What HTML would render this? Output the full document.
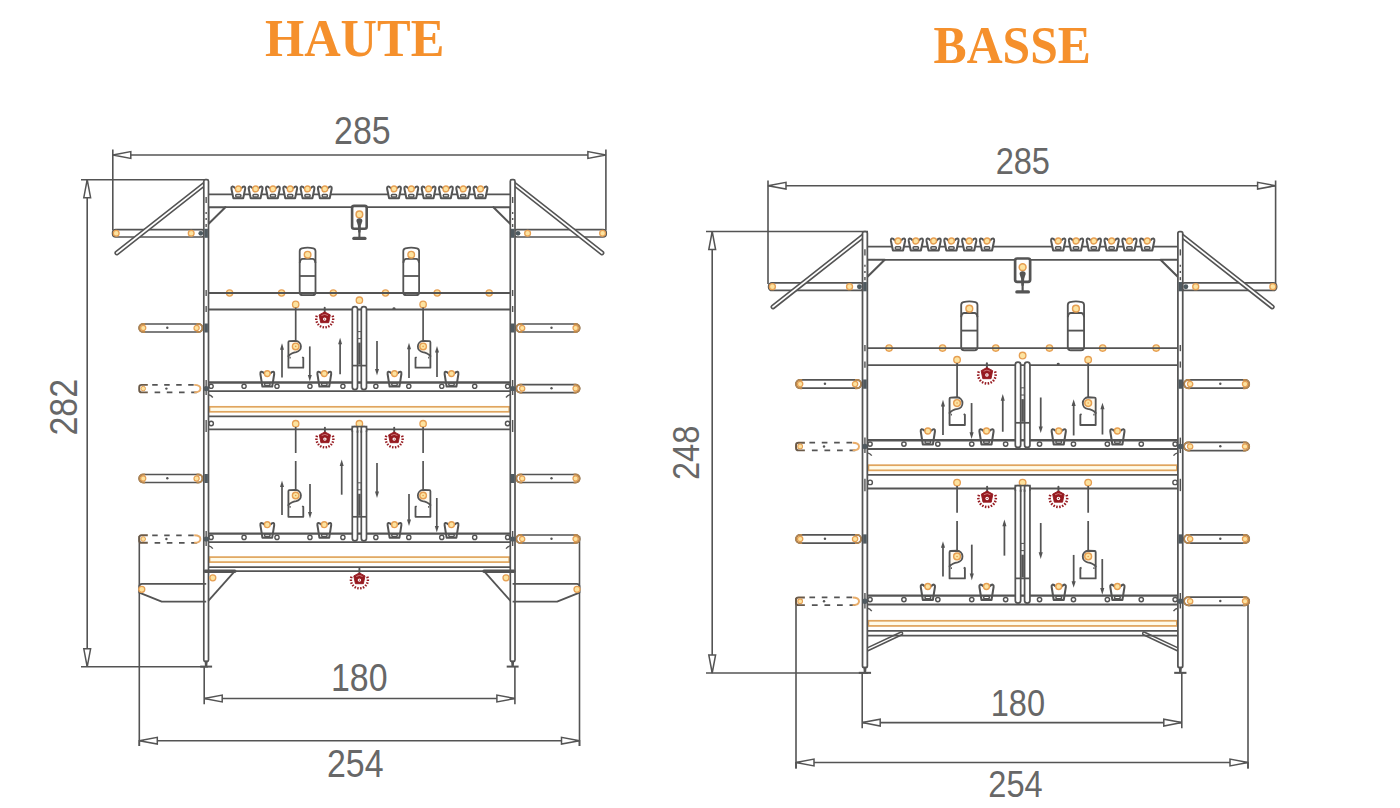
<!DOCTYPE html>
<html><head><meta charset="utf-8"><style>
html,body{margin:0;padding:0;background:#fff;width:1400px;height:808px;overflow:hidden}
svg{display:block}
text{font-family:"Liberation Sans",sans-serif}
.ttl{font-family:"Liberation Serif",serif;font-weight:bold;fill:#f5902c}
</style></head><body>
<svg width="1400" height="808" viewBox="0 0 1400 808">
<defs><g id="cupT" fill="none" stroke="#545454" stroke-width="2" stroke-linejoin="round" stroke-linecap="round">
<path d="M-3.4,1.6 Q-4.6,0 -6.1,0.2 Q-7.2,0.5 -6.9,2.4 L-4.9,11.8 L4.9,11.8 L6.9,2.4 Q7.2,0.5 6.1,0.2 Q4.6,0 3.4,1.6" fill="#fff"/>
<rect x="-2.6" y="8.2" width="5.2" height="2.3" rx="1" stroke-width="1.5"/>
<circle cx="0" cy="2.5" r="2.9" fill="#fde3a0" stroke="#e69f52" stroke-width="1.4"/>
</g><g id="cupF" fill="none" stroke="#545454" stroke-width="2" stroke-linejoin="round" stroke-linecap="round">
<path d="M-3.4,1.6 Q-4.6,0 -6.1,0.2 Q-7.2,0.5 -6.9,2.4 L-4.9,15 L4.9,15 L6.9,2.4 Q7.2,0.5 6.1,0.2 Q4.6,0 3.4,1.6" fill="#fff"/>
<rect x="-2.7" y="11.4" width="5.4" height="2.4" rx="1" stroke-width="1.5"/>
<circle cx="0" cy="2" r="2.9" fill="#fde3a0" stroke="#e69f52" stroke-width="1.4"/>
</g><g id="feeder" fill="none" stroke="#545454" stroke-width="1.8">
<path d="M-7.9,44.4 L-7.9,3.4 Q-7.9,1 -5.8,0.5 Q0,-0.8 5.8,0.5 Q7.9,1 7.9,3.4 L7.9,44.4 Q7.9,47.4 4.9,47.4 L-4.9,47.4 Q-7.9,47.4 -7.9,44.4 Z" fill="#fff"/>
<path d="M-7.9,15 Q-7.3,11.1 -5,11.1 L5,11.1 Q7.3,11.1 7.9,15"/>
<line x1="-7.9" y1="28.2" x2="7.9" y2="28.2"/>
<line x1="-5" y1="45.9" x2="5" y2="45.9" stroke-width="1.2"/>
<circle cx="0" cy="6.9" r="3.3" fill="#fde3a0" stroke="#e69f52" stroke-width="1.4"/>
</g><g id="fbox">
<rect x="-7.3" y="0.4" width="14.6" height="22.8" rx="2" fill="#fff" stroke="#545454" stroke-width="2.6"/>
<circle cx="0" cy="8.9" r="3.3" fill="#fde3a0" stroke="#e69f52" stroke-width="1.5"/>
<path d="M-3,15.6 Q-3,12.8 0,12.8 Q3,12.8 3,15.6 L1.6,19.5 L-1.6,19.5 Z" fill="#545454"/>
<path d="M-1.6,19 L-1.1,27 L1.1,27 L1.6,19 Z" fill="#545454"/>
<line x1="0" y1="22" x2="0" y2="32" stroke="#545454" stroke-width="2.1"/>
<line x1="-5.6" y1="32.9" x2="5.6" y2="32.9" stroke="#545454" stroke-width="3.2" stroke-linecap="round"/>
</g><g id="drk" fill="none" stroke="#545454" stroke-width="1.8" stroke-linejoin="round">
<path d="M0,-5.6 A5.7,5.7 0 0 1 0.5,5.7 Q-4.5,6.2 -7.3,9.8 L-7.3,-4.2 Q-7.3,-5.2 -6.3,-5.3 Z" fill="#fffaf0"/>
<path d="M-7.3,9 L-7.3,21.3 L7.6,21.3 L7.6,11.4 L6.4,10.8"/>
<path d="M-5.6,10.4 L-5.6,12.2" stroke-width="1.2"/>
<circle cx="0" cy="0" r="3.3" fill="#fde3a0" stroke="#e69f52" stroke-width="1.4"/>
<circle cx="0" cy="0" r="0.8" fill="#e69f52" stroke="none"/>
</g><g id="heat">
<line x1="0" y1="-11.2" x2="0" y2="-6.5" stroke="#545454" stroke-width="1.9" stroke-linecap="round"/>
<path d="M0,-7 L5.6,-4 L4,3.8 L-4,3.8 L-5.6,-4 Z" fill="#961a20" stroke="#961a20" stroke-width="0.9" stroke-linejoin="round"/>
<path d="M-3.2,-3.4 Q0,-5.6 3.2,-3.4" fill="none" stroke="#d98b8b" stroke-width="0.8"/>
<circle cx="0" cy="0.2" r="1.7" fill="#fff"/>
<circle cx="0" cy="0.2" r="0.6" fill="#961a20"/>
<g stroke="#961a20" stroke-width="1.5"><line x1="-6.98" y1="-2.13" x2="-9.28" y2="-2.84"/><line x1="-7.29" y1="0.31" x2="-9.69" y2="0.42"/><line x1="-6.77" y1="2.72" x2="-9" y2="3.62"/><line x1="-5.48" y1="4.82" x2="-7.28" y2="6.41"/><line x1="-3.56" y1="6.37" x2="-4.73" y2="8.47"/><line x1="-1.23" y1="7.2" x2="-1.64" y2="9.56"/><line x1="1.23" y1="7.2" x2="1.64" y2="9.56"/><line x1="3.56" y1="6.37" x2="4.73" y2="8.47"/><line x1="5.48" y1="4.82" x2="7.28" y2="6.41"/><line x1="6.77" y1="2.72" x2="9" y2="3.62"/><line x1="7.29" y1="0.31" x2="9.69" y2="0.42"/><line x1="6.98" y1="-2.13" x2="9.28" y2="-2.84"/></g>
</g><g id="perch">
<rect x="0" y="-4" width="63.3" height="8" rx="4" fill="#fff" stroke="#545454" stroke-width="1.7"/>
<path d="M6,-4 L4,-4 A4,4 0 0 0 4,4 L6,4" fill="none" stroke="#b7874f" stroke-width="1.8"/>
<path d="M57.3,-4 L59.3,-4 A4,4 0 0 1 59.3,4 L57.3,4" fill="none" stroke="#b7874f" stroke-width="1.8"/>
<circle cx="4" cy="0" r="2.6" fill="#fde3a0" stroke="#e69f52" stroke-width="1.2"/>
<circle cx="57.4" cy="0" r="2.6" fill="#fde3a0" stroke="#e69f52" stroke-width="1.2"/>
<circle cx="28.1" cy="-0.3" r="1.2" fill="#545454"/>
</g><g id="dperch">
<path d="M13,-3.7 L58,-3.7" stroke="#545454" stroke-width="1.7" stroke-dasharray="5.5,6.5"/>
<path d="M15.4,3.8 L58,3.8" stroke="#545454" stroke-width="1.7" stroke-dasharray="5.6,6.6"/>
<path d="M8.6,-3.7 L2.4,-3.7 Q0,-3.7 0,-1.3 L0,1.4 Q0,3.8 2.4,3.8 L8.6,3.8" fill="none" stroke="#6b5a48" stroke-width="1.9"/>
<circle cx="4" cy="0" r="2.3" fill="#fde3a0" stroke="#e69f52" stroke-width="1"/>
<path d="M55,-3.7 Q61.2,-3.7 61.2,0 Q61.2,3.8 55,3.8" fill="none" stroke="#e9ad6a" stroke-width="1.9"/>
<circle cx="27.2" cy="0" r="1.2" fill="#545454"/>
</g></defs>
<text class="ttl" transform="translate(354.6,55.6) scale(0.97,1)" font-size="52" text-anchor="middle">HAUTE</text>
<text class="ttl" transform="translate(1012.2,63.2) scale(0.955,1)" font-size="52" text-anchor="middle">BASSE</text>
<line x1="112.8" y1="155" x2="605.9" y2="155" stroke="#545454" stroke-width="1.6"/><line x1="112.8" y1="149.5" x2="112.8" y2="230" stroke="#545454" stroke-width="1.6"/><line x1="605.9" y1="149.5" x2="605.9" y2="230" stroke="#545454" stroke-width="1.6"/><path d="M112.8,155 L130.8,151.6 L130.8,158.4 Z" fill="#fff" stroke="#545454" stroke-width="1.5"/><path d="M605.9,155 L587.9,151.6 L587.9,158.4 Z" fill="#fff" stroke="#545454" stroke-width="1.5"/><line x1="87.2" y1="179.7" x2="87.2" y2="666.8" stroke="#545454" stroke-width="1.6"/><line x1="81" y1="179.7" x2="208" y2="179.7" stroke="#545454" stroke-width="1.6"/><line x1="81" y1="666.8" x2="208" y2="666.8" stroke="#545454" stroke-width="1.6"/><path d="M87.2,179.7 L83.8,197.7 L90.6,197.7 Z" fill="#fff" stroke="#545454" stroke-width="1.5"/><path d="M87.2,666.8 L83.8,648.8 L90.6,648.8 Z" fill="#fff" stroke="#545454" stroke-width="1.5"/><line x1="139.3" y1="536" x2="139.3" y2="746" stroke="#545454" stroke-width="1.6"/><line x1="579.5" y1="536" x2="579.5" y2="746" stroke="#545454" stroke-width="1.6"/><line x1="139.3" y1="740.7" x2="579.5" y2="740.7" stroke="#545454" stroke-width="1.6"/><line x1="139.3" y1="740" x2="139.3" y2="746" stroke="#545454" stroke-width="1.6"/><line x1="579.5" y1="740" x2="579.5" y2="746" stroke="#545454" stroke-width="1.6"/><path d="M139.3,740.7 L157.3,737.3 L157.3,744.1 Z" fill="#fff" stroke="#545454" stroke-width="1.5"/><path d="M579.5,740.7 L561.5,737.3 L561.5,744.1 Z" fill="#fff" stroke="#545454" stroke-width="1.5"/><line x1="204.2" y1="698.5" x2="514.9" y2="698.5" stroke="#545454" stroke-width="1.6"/><line x1="204.2" y1="667" x2="204.2" y2="704.3" stroke="#545454" stroke-width="1.6"/><line x1="514.9" y1="667" x2="514.9" y2="704.3" stroke="#545454" stroke-width="1.6"/><path d="M204.2,698.5 L222.2,695.1 L222.2,701.9 Z" fill="#fff" stroke="#545454" stroke-width="1.5"/><path d="M514.9,698.5 L496.9,695.1 L496.9,701.9 Z" fill="#fff" stroke="#545454" stroke-width="1.5"/><line x1="768" y1="185.7" x2="1275.6" y2="185.7" stroke="#545454" stroke-width="1.6"/><line x1="768" y1="180.5" x2="768" y2="284" stroke="#545454" stroke-width="1.6"/><line x1="1275.6" y1="180.5" x2="1275.6" y2="284" stroke="#545454" stroke-width="1.6"/><path d="M768,185.7 L786,182.3 L786,189.1 Z" fill="#fff" stroke="#545454" stroke-width="1.5"/><path d="M1275.6,185.7 L1257.6,182.3 L1257.6,189.1 Z" fill="#fff" stroke="#545454" stroke-width="1.5"/><line x1="712.2" y1="231.5" x2="712.2" y2="673" stroke="#545454" stroke-width="1.6"/><line x1="706" y1="231.5" x2="868" y2="231.5" stroke="#545454" stroke-width="1.6"/><line x1="706" y1="673" x2="868" y2="673" stroke="#545454" stroke-width="1.6"/><path d="M712.2,231.5 L708.8,249.5 L715.6,249.5 Z" fill="#fff" stroke="#545454" stroke-width="1.5"/><path d="M712.2,673 L708.8,655 L715.6,655 Z" fill="#fff" stroke="#545454" stroke-width="1.5"/><line x1="796" y1="598" x2="796" y2="768.5" stroke="#545454" stroke-width="1.6"/><line x1="1248" y1="598" x2="1248" y2="768.5" stroke="#545454" stroke-width="1.6"/><line x1="796" y1="762.5" x2="1248" y2="762.5" stroke="#545454" stroke-width="1.6"/><line x1="796" y1="762" x2="796" y2="768.5" stroke="#545454" stroke-width="1.6"/><line x1="1248" y1="762" x2="1248" y2="768.5" stroke="#545454" stroke-width="1.6"/><path d="M796,762.5 L814,759.1 L814,765.9 Z" fill="#fff" stroke="#545454" stroke-width="1.5"/><path d="M1248,762.5 L1230,759.1 L1230,765.9 Z" fill="#fff" stroke="#545454" stroke-width="1.5"/><line x1="862.2" y1="722.6" x2="1181.8" y2="722.6" stroke="#545454" stroke-width="1.6"/><line x1="862.2" y1="673" x2="862.2" y2="728.2" stroke="#545454" stroke-width="1.6"/><line x1="1181.8" y1="673" x2="1181.8" y2="728.2" stroke="#545454" stroke-width="1.6"/><path d="M862.2,722.6 L880.2,719.2 L880.2,726 Z" fill="#fff" stroke="#545454" stroke-width="1.5"/><path d="M1181.8,722.6 L1163.8,719.2 L1163.8,726 Z" fill="#fff" stroke="#545454" stroke-width="1.5"/>
<g><rect x="112.6" y="229.6" width="92.4" height="7.4" rx="3.2" fill="#fff" stroke="#545454" stroke-width="1.7"/><circle cx="116.2" cy="233.3" r="2.9" fill="#fde3a0" stroke="#e69f52" stroke-width="1.3"/><circle cx="191.2" cy="233.3" r="2.9" fill="#fde3a0" stroke="#e69f52" stroke-width="1.3"/><circle cx="200.8" cy="233.3" r="2.4" fill="#4d5a60"/><line x1="116.8" y1="253" x2="205" y2="183.6" stroke="#545454" stroke-width="4.8" stroke-linecap="round"/><line x1="116.8" y1="253" x2="205" y2="183.6" stroke="#fff" stroke-width="1.7" stroke-linecap="round"/><rect x="513.8" y="229.6" width="92.4" height="7.4" rx="3.2" fill="#fff" stroke="#545454" stroke-width="1.7"/><circle cx="602.6" cy="233.3" r="2.9" fill="#fde3a0" stroke="#e69f52" stroke-width="1.3"/><circle cx="527.6" cy="233.3" r="2.9" fill="#fde3a0" stroke="#e69f52" stroke-width="1.3"/><circle cx="518" cy="233.3" r="2.4" fill="#4d5a60"/><line x1="602" y1="253" x2="513.8" y2="183.6" stroke="#545454" stroke-width="4.8" stroke-linecap="round"/><line x1="602" y1="253" x2="513.8" y2="183.6" stroke="#fff" stroke-width="1.7" stroke-linecap="round"/><use href="#perch" x="139.2" y="328"/><use href="#perch" transform="translate(579.6,328) scale(-1,1)"/><use href="#perch" x="139.2" y="478.5"/><use href="#perch" transform="translate(579.6,478.5) scale(-1,1)"/><use href="#dperch" x="139.2" y="388.6"/><use href="#perch" transform="translate(579.6,388.6) scale(-1,1)"/><use href="#dperch" x="139.2" y="539"/><use href="#perch" transform="translate(579.6,539) scale(-1,1)"/><circle cx="229.6" cy="293" r="3.1" fill="#fde3a0" stroke="#e69f52" stroke-width="1.3"/><circle cx="489.2" cy="293" r="3.1" fill="#fde3a0" stroke="#e69f52" stroke-width="1.3"/><circle cx="281.6" cy="293" r="3.1" fill="#fde3a0" stroke="#e69f52" stroke-width="1.3"/><circle cx="437.2" cy="293" r="3.1" fill="#fde3a0" stroke="#e69f52" stroke-width="1.3"/><circle cx="333.3" cy="293" r="3.1" fill="#fde3a0" stroke="#e69f52" stroke-width="1.3"/><circle cx="385.5" cy="293" r="3.1" fill="#fde3a0" stroke="#e69f52" stroke-width="1.3"/><use href="#feeder" x="307.6" y="247.8"/><use href="#feeder" x="411.2" y="247.8"/><line x1="208.4" y1="194.4" x2="510.4" y2="194.4" stroke="#545454" stroke-width="1.8" /><line x1="224.5" y1="207.2" x2="494.3" y2="207.2" stroke="#545454" stroke-width="1.8" /><line x1="208.4" y1="293" x2="510.4" y2="293" stroke="#545454" stroke-width="1.8" /><line x1="208.4" y1="309.5" x2="510.4" y2="309.5" stroke="#545454" stroke-width="1.8" /><line x1="208.4" y1="429.4" x2="510.4" y2="429.4" stroke="#545454" stroke-width="1.8" /><path d="M208.4,207.2 L225.4,207.2 L208.4,224 Z" fill="#fff" stroke="#545454" stroke-width="2" stroke-linejoin="round"/><path d="M510.4,207.2 L493.4,207.2 L510.4,224 Z" fill="#fff" stroke="#545454" stroke-width="2" stroke-linejoin="round"/><use href="#cupT" x="238.3" y="186.4"/><use href="#cupT" x="480.5" y="186.4"/><use href="#cupT" x="255.6" y="186.4"/><use href="#cupT" x="463.2" y="186.4"/><use href="#cupT" x="272.9" y="186.4"/><use href="#cupT" x="445.9" y="186.4"/><use href="#cupT" x="290.2" y="186.4"/><use href="#cupT" x="428.6" y="186.4"/><use href="#cupT" x="307.5" y="186.4"/><use href="#cupT" x="411.3" y="186.4"/><use href="#cupT" x="324.8" y="186.4"/><use href="#cupT" x="394" y="186.4"/><use href="#fbox" x="359.4" y="205.5"/><circle cx="295.7" cy="304.4" r="3.2" fill="#fde3a0" stroke="#e69f52" stroke-width="1.3"/><circle cx="359.4" cy="300.2" r="3.2" fill="#fde3a0" stroke="#e69f52" stroke-width="1.3"/><circle cx="423.1" cy="304.4" r="3.2" fill="#fde3a0" stroke="#e69f52" stroke-width="1.3"/><use href="#heat" x="324.7" y="318.9"/><ellipse cx="394" cy="308.4" rx="1.5" ry="1.2" fill="#545454"/><line x1="295.7" y1="307.6" x2="295.7" y2="341" stroke="#545454" stroke-width="1.7" /><line x1="423.1" y1="307.6" x2="423.1" y2="341" stroke="#545454" stroke-width="1.7" /><use href="#drk" x="295.7" y="346.4"/><use href="#drk" transform="translate(423.1,346.4) scale(-1,1)"/><line x1="282" y1="377.4" x2="282" y2="347.2" stroke="#545454" stroke-width="1.7"/><path d="M282,343.3 L280,349.8 L284,349.8 Z" fill="#545454"/><line x1="309.8" y1="346.4" x2="309.8" y2="377.5" stroke="#545454" stroke-width="1.7"/><path d="M309.8,381.4 L307.8,374.9 L311.8,374.9 Z" fill="#545454"/><line x1="340.1" y1="374.3" x2="340.1" y2="341.6" stroke="#545454" stroke-width="1.7"/><path d="M340.1,337.7 L338.1,344.2 L342.1,344.2 Z" fill="#545454"/><line x1="377" y1="341" x2="377" y2="371.7" stroke="#545454" stroke-width="1.7"/><path d="M377,375.6 L375,369.1 L379,369.1 Z" fill="#545454"/><line x1="409" y1="377.9" x2="409" y2="346.6" stroke="#545454" stroke-width="1.7"/><path d="M409,342.7 L407,349.2 L411,349.2 Z" fill="#545454"/><line x1="437" y1="377" x2="437" y2="349.9" stroke="#545454" stroke-width="1.7"/><path d="M437,346 L435,352.5 L439,352.5 Z" fill="#545454"/><circle cx="295.7" cy="423.7" r="3.2" fill="#fde3a0" stroke="#e69f52" stroke-width="1.3"/><circle cx="359.4" cy="423.7" r="3.2" fill="#fde3a0" stroke="#e69f52" stroke-width="1.3"/><circle cx="423.1" cy="423.7" r="3.2" fill="#fde3a0" stroke="#e69f52" stroke-width="1.3"/><use href="#heat" x="324.9" y="438.9"/><use href="#heat" x="394.2" y="438.9"/><line x1="295.7" y1="427" x2="295.7" y2="453" stroke="#545454" stroke-width="1.7" /><line x1="295.7" y1="461" x2="295.7" y2="490" stroke="#545454" stroke-width="1.7" /><line x1="423.1" y1="427" x2="423.1" y2="453" stroke="#545454" stroke-width="1.7" /><line x1="423.1" y1="461" x2="423.1" y2="490" stroke="#545454" stroke-width="1.7" /><use href="#drk" x="295.7" y="495.5"/><use href="#drk" transform="translate(423.1,495.5) scale(-1,1)"/><line x1="282" y1="515" x2="282" y2="484.5" stroke="#545454" stroke-width="1.7"/><path d="M282,480.6 L280,487.1 L284,487.1 Z" fill="#545454"/><line x1="310" y1="484" x2="310" y2="514.6" stroke="#545454" stroke-width="1.7"/><path d="M310,518.5 L308,512 L312,512 Z" fill="#545454"/><line x1="341.7" y1="494.7" x2="341.7" y2="463.5" stroke="#545454" stroke-width="1.7"/><path d="M341.7,459.6 L339.7,466.1 L343.7,466.1 Z" fill="#545454"/><line x1="377" y1="463" x2="377" y2="494.1" stroke="#545454" stroke-width="1.7"/><path d="M377,498 L375,491.5 L379,491.5 Z" fill="#545454"/><line x1="409" y1="494" x2="409" y2="522.1" stroke="#545454" stroke-width="1.7"/><path d="M409,526 L407,519.5 L411,519.5 Z" fill="#545454"/><line x1="436.8" y1="498" x2="436.8" y2="528.7" stroke="#545454" stroke-width="1.7"/><path d="M436.8,532.6 L434.8,526.1 L438.8,526.1 Z" fill="#545454"/><rect x="209.5" y="406.8" width="299.8" height="5" fill="#fffbea" stroke="#e0a55e" stroke-width="1.7"/><rect x="209.5" y="557.1" width="299.8" height="5" fill="#fffbea" stroke="#e0a55e" stroke-width="1.7"/><line x1="208.4" y1="416.3" x2="510.4" y2="416.3" stroke="#545454" stroke-width="1.7" /><line x1="208.4" y1="567.1" x2="510.4" y2="567.1" stroke="#545454" stroke-width="1.7" /><line x1="208.4" y1="571.1" x2="510.4" y2="571.1" stroke="#545454" stroke-width="1.6" /><circle cx="211.2" cy="423.5" r="2.2" fill="#fff" stroke="#545454" stroke-width="1.4"/><circle cx="507.6" cy="423.5" r="2.2" fill="#fff" stroke="#545454" stroke-width="1.4"/><use href="#cupF" x="267.3" y="371.6"/><use href="#cupF" x="451.5" y="371.6"/><use href="#cupF" x="324.3" y="371.6"/><use href="#cupF" x="394.5" y="371.6"/><line x1="208.4" y1="382.5" x2="510.4" y2="382.5" stroke="#545454" stroke-width="2.3" /><line x1="208.4" y1="391.1" x2="510.4" y2="391.1" stroke="#545454" stroke-width="1.8" /><circle cx="211.1" cy="386.3" r="2.1" fill="#fff" stroke="#545454" stroke-width="1.4"/><circle cx="244.05" cy="386.3" r="2.1" fill="#fff" stroke="#545454" stroke-width="1.4"/><circle cx="277" cy="386.3" r="2.1" fill="#fff" stroke="#545454" stroke-width="1.4"/><circle cx="309.95" cy="386.3" r="2.1" fill="#fff" stroke="#545454" stroke-width="1.4"/><circle cx="342.9" cy="386.3" r="2.1" fill="#fff" stroke="#545454" stroke-width="1.4"/><circle cx="375.85" cy="386.3" r="2.1" fill="#fff" stroke="#545454" stroke-width="1.4"/><circle cx="408.8" cy="386.3" r="2.1" fill="#fff" stroke="#545454" stroke-width="1.4"/><circle cx="441.75" cy="386.3" r="2.1" fill="#fff" stroke="#545454" stroke-width="1.4"/><circle cx="474.7" cy="386.3" r="2.1" fill="#fff" stroke="#545454" stroke-width="1.4"/><circle cx="507.65" cy="386.3" r="2.1" fill="#fff" stroke="#545454" stroke-width="1.4"/><path d="M208.6,394.8 Q211,395.1 212.8,397.5" fill="none" stroke="#545454" stroke-width="1.4"/><path d="M510.2,394.8 Q507.8,395.1 506,397.5" fill="none" stroke="#545454" stroke-width="1.4"/><use href="#cupF" x="267.3" y="522.7"/><use href="#cupF" x="451.5" y="522.7"/><use href="#cupF" x="324.3" y="522.7"/><use href="#cupF" x="394.5" y="522.7"/><line x1="208.4" y1="533.6" x2="510.4" y2="533.6" stroke="#545454" stroke-width="2.3" /><line x1="208.4" y1="542.2" x2="510.4" y2="542.2" stroke="#545454" stroke-width="1.8" /><circle cx="211.1" cy="537.4" r="2.1" fill="#fff" stroke="#545454" stroke-width="1.4"/><circle cx="244.05" cy="537.4" r="2.1" fill="#fff" stroke="#545454" stroke-width="1.4"/><circle cx="277" cy="537.4" r="2.1" fill="#fff" stroke="#545454" stroke-width="1.4"/><circle cx="309.95" cy="537.4" r="2.1" fill="#fff" stroke="#545454" stroke-width="1.4"/><circle cx="342.9" cy="537.4" r="2.1" fill="#fff" stroke="#545454" stroke-width="1.4"/><circle cx="375.85" cy="537.4" r="2.1" fill="#fff" stroke="#545454" stroke-width="1.4"/><circle cx="408.8" cy="537.4" r="2.1" fill="#fff" stroke="#545454" stroke-width="1.4"/><circle cx="441.75" cy="537.4" r="2.1" fill="#fff" stroke="#545454" stroke-width="1.4"/><circle cx="474.7" cy="537.4" r="2.1" fill="#fff" stroke="#545454" stroke-width="1.4"/><circle cx="507.65" cy="537.4" r="2.1" fill="#fff" stroke="#545454" stroke-width="1.4"/><path d="M208.6,545.9 Q211,546.2 212.8,548.6" fill="none" stroke="#545454" stroke-width="1.4"/><path d="M510.2,545.9 Q507.8,546.2 506,548.6" fill="none" stroke="#545454" stroke-width="1.4"/><rect x="352.3" y="306.6" width="5.2" height="83" rx="2.5" fill="#fff" stroke="#545454" stroke-width="1.7"/><rect x="361.3" y="306.6" width="5.2" height="83" rx="2.5" fill="#fff" stroke="#545454" stroke-width="1.7"/><line x1="352.3" y1="365.6" x2="366.5" y2="365.6" stroke="#545454" stroke-width="1.7"/><rect x="358.2" y="342.6" width="2.4" height="22" fill="#545454"/><rect x="357.9" y="331.6" width="3" height="7" fill="#fff" stroke="#545454" stroke-width="1"/><rect x="352.3" y="426.7" width="5.2" height="114.1" rx="2.5" fill="#fff" stroke="#545454" stroke-width="1.7"/><rect x="361.3" y="426.7" width="5.2" height="114.1" rx="2.5" fill="#fff" stroke="#545454" stroke-width="1.7"/><path d="M352.3,431.7 L352.3,426.7 L366.5,426.7 L366.5,431.7" fill="none" stroke="#545454" stroke-width="1.7"/><rect x="353.2" y="427.6" width="12.4" height="3" fill="#fff"/><line x1="357.5" y1="426.7" x2="357.5" y2="432.7" stroke="#545454" stroke-width="1.7"/><line x1="361.3" y1="426.7" x2="361.3" y2="432.7" stroke="#545454" stroke-width="1.7"/><line x1="352.3" y1="516.8" x2="366.5" y2="516.8" stroke="#545454" stroke-width="1.7"/><rect x="358.2" y="493.8" width="2.4" height="22" fill="#545454"/><rect x="357.9" y="482.8" width="3" height="7" fill="#fff" stroke="#545454" stroke-width="1"/><rect x="203.8" y="179.7" width="4.7" height="481.9" rx="1.6" fill="#fff" stroke="#545454" stroke-width="1.7"/><line x1="206.15" y1="197" x2="206.15" y2="203" stroke="#545454" stroke-width="1.4"/><line x1="206.15" y1="212" x2="206.15" y2="214" stroke="#545454" stroke-width="1.4"/><line x1="206.15" y1="218" x2="206.15" y2="220" stroke="#545454" stroke-width="1.4"/><line x1="206.15" y1="224" x2="206.15" y2="227" stroke="#545454" stroke-width="1.4"/><line x1="206.15" y1="290" x2="206.15" y2="296" stroke="#545454" stroke-width="1.4"/><line x1="206.15" y1="306" x2="206.15" y2="312" stroke="#545454" stroke-width="1.4"/><line x1="206.15" y1="380" x2="206.15" y2="395" stroke="#545454" stroke-width="1.4"/><line x1="206.15" y1="420" x2="206.15" y2="432" stroke="#545454" stroke-width="1.4"/><line x1="206.15" y1="531" x2="206.15" y2="546" stroke="#545454" stroke-width="1.4"/><rect x="204.4" y="228.8" width="3.5" height="9" fill="#505a60"/><rect x="204.4" y="323.5" width="3.5" height="9" fill="#505a60"/><rect x="204.4" y="474" width="3.5" height="9" fill="#505a60"/><circle cx="206.15" cy="388.6" r="2.6" fill="#505a60"/><circle cx="206.15" cy="539" r="2.6" fill="#505a60"/><line x1="200.2" y1="666.6" x2="212.1" y2="666.6" stroke="#545454" stroke-width="2"/><path d="M204.6,660.6 L207.7,660.6 L207.3,666.6 L205,666.6 Z" fill="#545454"/><rect x="510.3" y="179.7" width="4.7" height="481.9" rx="1.6" fill="#fff" stroke="#545454" stroke-width="1.7"/><line x1="512.65" y1="197" x2="512.65" y2="203" stroke="#545454" stroke-width="1.4"/><line x1="512.65" y1="212" x2="512.65" y2="214" stroke="#545454" stroke-width="1.4"/><line x1="512.65" y1="218" x2="512.65" y2="220" stroke="#545454" stroke-width="1.4"/><line x1="512.65" y1="224" x2="512.65" y2="227" stroke="#545454" stroke-width="1.4"/><line x1="512.65" y1="290" x2="512.65" y2="296" stroke="#545454" stroke-width="1.4"/><line x1="512.65" y1="306" x2="512.65" y2="312" stroke="#545454" stroke-width="1.4"/><line x1="512.65" y1="380" x2="512.65" y2="395" stroke="#545454" stroke-width="1.4"/><line x1="512.65" y1="420" x2="512.65" y2="432" stroke="#545454" stroke-width="1.4"/><line x1="512.65" y1="531" x2="512.65" y2="546" stroke="#545454" stroke-width="1.4"/><rect x="510.9" y="228.8" width="3.5" height="9" fill="#505a60"/><rect x="510.9" y="323.5" width="3.5" height="9" fill="#505a60"/><rect x="510.9" y="474" width="3.5" height="9" fill="#505a60"/><circle cx="512.65" cy="388.6" r="2.6" fill="#505a60"/><circle cx="512.65" cy="539" r="2.6" fill="#505a60"/><line x1="506.7" y1="666.6" x2="518.6" y2="666.6" stroke="#545454" stroke-width="2"/><path d="M511.1,660.6 L514.2,660.6 L513.8,666.6 L511.5,666.6 Z" fill="#545454"/><path d="M206.2,583.8 L142,583.8 Q139.3,583.8 139.3,586.5 L139.3,592.6 L161.7,601.7 L206.2,601.7" fill="none" stroke="#545454" stroke-width="1.8" stroke-linejoin="round"/><circle cx="141.8" cy="589.3" r="3" fill="#fde3a0" stroke="#e69f52" stroke-width="1.3"/><path d="M234.6,571.4 L208.3,600.8" fill="none" stroke="#545454" stroke-width="1.8"/><line x1="205" y1="571.2" x2="234.8" y2="571.2" stroke="#545454" stroke-width="3.4" stroke-linecap="round"/><circle cx="212.8" cy="577.8" r="3" fill="#fde3a0" stroke="#e69f52" stroke-width="1.3"/><path d="M512.6,583.8 L576.8,583.8 Q579.5,583.8 579.5,586.5 L579.5,592.6 L557.1,601.7 L512.6,601.7" fill="none" stroke="#545454" stroke-width="1.8" stroke-linejoin="round"/><circle cx="577" cy="589.3" r="3" fill="#fde3a0" stroke="#e69f52" stroke-width="1.3"/><path d="M484.2,571.4 L510.5,600.8" fill="none" stroke="#545454" stroke-width="1.8"/><line x1="513.8" y1="571.2" x2="484" y2="571.2" stroke="#545454" stroke-width="3.4" stroke-linecap="round"/><circle cx="506" cy="577.8" r="3" fill="#fde3a0" stroke="#e69f52" stroke-width="1.3"/><use href="#heat" x="359.4" y="579.9"/></g>
<g transform="translate(652.8,46.6) scale(1.029)"><line x1="241.4" y1="570.36" x2="207.97" y2="586.1" stroke="#545454" stroke-width="4.2" stroke-linecap="round"/><line x1="241.4" y1="570.36" x2="207.97" y2="586.1" stroke="#fff" stroke-width="1.3" stroke-linecap="round"/><line x1="477.4" y1="570.36" x2="510.83" y2="586.1" stroke="#545454" stroke-width="4.2" stroke-linecap="round"/><line x1="477.4" y1="570.36" x2="510.83" y2="586.1" stroke="#fff" stroke-width="1.3" stroke-linecap="round"/><rect x="112.6" y="229.6" width="92.4" height="7.4" rx="3.2" fill="#fff" stroke="#545454" stroke-width="1.7"/><circle cx="116.2" cy="233.3" r="2.9" fill="#fde3a0" stroke="#e69f52" stroke-width="1.3"/><circle cx="191.2" cy="233.3" r="2.9" fill="#fde3a0" stroke="#e69f52" stroke-width="1.3"/><circle cx="200.8" cy="233.3" r="2.4" fill="#4d5a60"/><line x1="116.8" y1="253" x2="205" y2="183.6" stroke="#545454" stroke-width="4.8" stroke-linecap="round"/><line x1="116.8" y1="253" x2="205" y2="183.6" stroke="#fff" stroke-width="1.7" stroke-linecap="round"/><rect x="513.8" y="229.6" width="92.4" height="7.4" rx="3.2" fill="#fff" stroke="#545454" stroke-width="1.7"/><circle cx="602.6" cy="233.3" r="2.9" fill="#fde3a0" stroke="#e69f52" stroke-width="1.3"/><circle cx="527.6" cy="233.3" r="2.9" fill="#fde3a0" stroke="#e69f52" stroke-width="1.3"/><circle cx="518" cy="233.3" r="2.4" fill="#4d5a60"/><line x1="602" y1="253" x2="513.8" y2="183.6" stroke="#545454" stroke-width="4.8" stroke-linecap="round"/><line x1="602" y1="253" x2="513.8" y2="183.6" stroke="#fff" stroke-width="1.7" stroke-linecap="round"/><use href="#perch" x="139.2" y="328"/><use href="#perch" transform="translate(579.6,328) scale(-1,1)"/><use href="#perch" x="139.2" y="478.5"/><use href="#perch" transform="translate(579.6,478.5) scale(-1,1)"/><use href="#dperch" x="139.2" y="388.6"/><use href="#perch" transform="translate(579.6,388.6) scale(-1,1)"/><use href="#dperch" x="139.2" y="539"/><use href="#perch" transform="translate(579.6,539) scale(-1,1)"/><circle cx="229.6" cy="293" r="3.1" fill="#fde3a0" stroke="#e69f52" stroke-width="1.3"/><circle cx="489.2" cy="293" r="3.1" fill="#fde3a0" stroke="#e69f52" stroke-width="1.3"/><circle cx="281.6" cy="293" r="3.1" fill="#fde3a0" stroke="#e69f52" stroke-width="1.3"/><circle cx="437.2" cy="293" r="3.1" fill="#fde3a0" stroke="#e69f52" stroke-width="1.3"/><circle cx="333.3" cy="293" r="3.1" fill="#fde3a0" stroke="#e69f52" stroke-width="1.3"/><circle cx="385.5" cy="293" r="3.1" fill="#fde3a0" stroke="#e69f52" stroke-width="1.3"/><use href="#feeder" x="307.6" y="247.8"/><use href="#feeder" x="411.2" y="247.8"/><line x1="208.4" y1="194.4" x2="510.4" y2="194.4" stroke="#545454" stroke-width="1.8" /><line x1="224.5" y1="207.2" x2="494.3" y2="207.2" stroke="#545454" stroke-width="1.8" /><line x1="208.4" y1="293" x2="510.4" y2="293" stroke="#545454" stroke-width="1.8" /><line x1="208.4" y1="309.5" x2="510.4" y2="309.5" stroke="#545454" stroke-width="1.8" /><line x1="208.4" y1="429.4" x2="510.4" y2="429.4" stroke="#545454" stroke-width="1.8" /><path d="M208.4,207.2 L225.4,207.2 L208.4,224 Z" fill="#fff" stroke="#545454" stroke-width="2" stroke-linejoin="round"/><path d="M510.4,207.2 L493.4,207.2 L510.4,224 Z" fill="#fff" stroke="#545454" stroke-width="2" stroke-linejoin="round"/><use href="#cupT" x="238.3" y="186.4"/><use href="#cupT" x="480.5" y="186.4"/><use href="#cupT" x="255.6" y="186.4"/><use href="#cupT" x="463.2" y="186.4"/><use href="#cupT" x="272.9" y="186.4"/><use href="#cupT" x="445.9" y="186.4"/><use href="#cupT" x="290.2" y="186.4"/><use href="#cupT" x="428.6" y="186.4"/><use href="#cupT" x="307.5" y="186.4"/><use href="#cupT" x="411.3" y="186.4"/><use href="#cupT" x="324.8" y="186.4"/><use href="#cupT" x="394" y="186.4"/><use href="#fbox" x="359.4" y="205.5"/><circle cx="295.7" cy="304.4" r="3.2" fill="#fde3a0" stroke="#e69f52" stroke-width="1.3"/><circle cx="359.4" cy="300.2" r="3.2" fill="#fde3a0" stroke="#e69f52" stroke-width="1.3"/><circle cx="423.1" cy="304.4" r="3.2" fill="#fde3a0" stroke="#e69f52" stroke-width="1.3"/><use href="#heat" x="324.7" y="318.9"/><ellipse cx="394" cy="308.4" rx="1.5" ry="1.2" fill="#545454"/><line x1="295.7" y1="307.6" x2="295.7" y2="341" stroke="#545454" stroke-width="1.7" /><line x1="423.1" y1="307.6" x2="423.1" y2="341" stroke="#545454" stroke-width="1.7" /><use href="#drk" x="295.7" y="346.4"/><use href="#drk" transform="translate(423.1,346.4) scale(-1,1)"/><line x1="282" y1="377.4" x2="282" y2="347.2" stroke="#545454" stroke-width="1.7"/><path d="M282,343.3 L280,349.8 L284,349.8 Z" fill="#545454"/><line x1="309.8" y1="346.4" x2="309.8" y2="377.5" stroke="#545454" stroke-width="1.7"/><path d="M309.8,381.4 L307.8,374.9 L311.8,374.9 Z" fill="#545454"/><line x1="340.1" y1="374.3" x2="340.1" y2="341.6" stroke="#545454" stroke-width="1.7"/><path d="M340.1,337.7 L338.1,344.2 L342.1,344.2 Z" fill="#545454"/><line x1="377" y1="341" x2="377" y2="371.7" stroke="#545454" stroke-width="1.7"/><path d="M377,375.6 L375,369.1 L379,369.1 Z" fill="#545454"/><line x1="409" y1="377.9" x2="409" y2="346.6" stroke="#545454" stroke-width="1.7"/><path d="M409,342.7 L407,349.2 L411,349.2 Z" fill="#545454"/><line x1="437" y1="377" x2="437" y2="349.9" stroke="#545454" stroke-width="1.7"/><path d="M437,346 L435,352.5 L439,352.5 Z" fill="#545454"/><circle cx="295.7" cy="423.7" r="3.2" fill="#fde3a0" stroke="#e69f52" stroke-width="1.3"/><circle cx="359.4" cy="423.7" r="3.2" fill="#fde3a0" stroke="#e69f52" stroke-width="1.3"/><circle cx="423.1" cy="423.7" r="3.2" fill="#fde3a0" stroke="#e69f52" stroke-width="1.3"/><use href="#heat" x="324.9" y="438.9"/><use href="#heat" x="394.2" y="438.9"/><line x1="295.7" y1="427" x2="295.7" y2="453" stroke="#545454" stroke-width="1.7" /><line x1="295.7" y1="461" x2="295.7" y2="490" stroke="#545454" stroke-width="1.7" /><line x1="423.1" y1="427" x2="423.1" y2="453" stroke="#545454" stroke-width="1.7" /><line x1="423.1" y1="461" x2="423.1" y2="490" stroke="#545454" stroke-width="1.7" /><use href="#drk" x="295.7" y="495.5"/><use href="#drk" transform="translate(423.1,495.5) scale(-1,1)"/><line x1="282" y1="515" x2="282" y2="484.5" stroke="#545454" stroke-width="1.7"/><path d="M282,480.6 L280,487.1 L284,487.1 Z" fill="#545454"/><line x1="310" y1="484" x2="310" y2="514.6" stroke="#545454" stroke-width="1.7"/><path d="M310,518.5 L308,512 L312,512 Z" fill="#545454"/><line x1="341.7" y1="494.7" x2="341.7" y2="463.5" stroke="#545454" stroke-width="1.7"/><path d="M341.7,459.6 L339.7,466.1 L343.7,466.1 Z" fill="#545454"/><line x1="377" y1="463" x2="377" y2="494.1" stroke="#545454" stroke-width="1.7"/><path d="M377,498 L375,491.5 L379,491.5 Z" fill="#545454"/><line x1="409" y1="494" x2="409" y2="522.1" stroke="#545454" stroke-width="1.7"/><path d="M409,526 L407,519.5 L411,519.5 Z" fill="#545454"/><line x1="436.8" y1="498" x2="436.8" y2="528.7" stroke="#545454" stroke-width="1.7"/><path d="M436.8,532.6 L434.8,526.1 L438.8,526.1 Z" fill="#545454"/><rect x="209.5" y="406.8" width="299.8" height="5" fill="#fffbea" stroke="#e0a55e" stroke-width="1.7"/><rect x="209.5" y="558" width="299.8" height="5" fill="#fffbea" stroke="#e0a55e" stroke-width="1.7"/><line x1="208.4" y1="416.3" x2="510.4" y2="416.3" stroke="#545454" stroke-width="1.7" /><line x1="208.4" y1="567.7" x2="510.4" y2="567.7" stroke="#545454" stroke-width="1.7" /><line x1="208.4" y1="572.4" x2="510.4" y2="572.4" stroke="#545454" stroke-width="1.6" /><circle cx="211.2" cy="423.5" r="2.2" fill="#fff" stroke="#545454" stroke-width="1.4"/><circle cx="507.6" cy="423.5" r="2.2" fill="#fff" stroke="#545454" stroke-width="1.4"/><use href="#cupF" x="267.3" y="371.6"/><use href="#cupF" x="451.5" y="371.6"/><use href="#cupF" x="324.3" y="371.6"/><use href="#cupF" x="394.5" y="371.6"/><line x1="208.4" y1="382.5" x2="510.4" y2="382.5" stroke="#545454" stroke-width="2.3" /><line x1="208.4" y1="391.1" x2="510.4" y2="391.1" stroke="#545454" stroke-width="1.8" /><circle cx="211.1" cy="386.3" r="2.1" fill="#fff" stroke="#545454" stroke-width="1.4"/><circle cx="244.05" cy="386.3" r="2.1" fill="#fff" stroke="#545454" stroke-width="1.4"/><circle cx="277" cy="386.3" r="2.1" fill="#fff" stroke="#545454" stroke-width="1.4"/><circle cx="309.95" cy="386.3" r="2.1" fill="#fff" stroke="#545454" stroke-width="1.4"/><circle cx="342.9" cy="386.3" r="2.1" fill="#fff" stroke="#545454" stroke-width="1.4"/><circle cx="375.85" cy="386.3" r="2.1" fill="#fff" stroke="#545454" stroke-width="1.4"/><circle cx="408.8" cy="386.3" r="2.1" fill="#fff" stroke="#545454" stroke-width="1.4"/><circle cx="441.75" cy="386.3" r="2.1" fill="#fff" stroke="#545454" stroke-width="1.4"/><circle cx="474.7" cy="386.3" r="2.1" fill="#fff" stroke="#545454" stroke-width="1.4"/><circle cx="507.65" cy="386.3" r="2.1" fill="#fff" stroke="#545454" stroke-width="1.4"/><path d="M208.6,394.8 Q211,395.1 212.8,397.5" fill="none" stroke="#545454" stroke-width="1.4"/><path d="M510.2,394.8 Q507.8,395.1 506,397.5" fill="none" stroke="#545454" stroke-width="1.4"/><use href="#cupF" x="267.3" y="522.7"/><use href="#cupF" x="451.5" y="522.7"/><use href="#cupF" x="324.3" y="522.7"/><use href="#cupF" x="394.5" y="522.7"/><line x1="208.4" y1="533.6" x2="510.4" y2="533.6" stroke="#545454" stroke-width="2.3" /><line x1="208.4" y1="542.2" x2="510.4" y2="542.2" stroke="#545454" stroke-width="1.8" /><circle cx="211.1" cy="537.4" r="2.1" fill="#fff" stroke="#545454" stroke-width="1.4"/><circle cx="244.05" cy="537.4" r="2.1" fill="#fff" stroke="#545454" stroke-width="1.4"/><circle cx="277" cy="537.4" r="2.1" fill="#fff" stroke="#545454" stroke-width="1.4"/><circle cx="309.95" cy="537.4" r="2.1" fill="#fff" stroke="#545454" stroke-width="1.4"/><circle cx="342.9" cy="537.4" r="2.1" fill="#fff" stroke="#545454" stroke-width="1.4"/><circle cx="375.85" cy="537.4" r="2.1" fill="#fff" stroke="#545454" stroke-width="1.4"/><circle cx="408.8" cy="537.4" r="2.1" fill="#fff" stroke="#545454" stroke-width="1.4"/><circle cx="441.75" cy="537.4" r="2.1" fill="#fff" stroke="#545454" stroke-width="1.4"/><circle cx="474.7" cy="537.4" r="2.1" fill="#fff" stroke="#545454" stroke-width="1.4"/><circle cx="507.65" cy="537.4" r="2.1" fill="#fff" stroke="#545454" stroke-width="1.4"/><path d="M208.6,545.9 Q211,546.2 212.8,548.6" fill="none" stroke="#545454" stroke-width="1.4"/><path d="M510.2,545.9 Q507.8,546.2 506,548.6" fill="none" stroke="#545454" stroke-width="1.4"/><rect x="352.3" y="306.6" width="5.2" height="83" rx="2.5" fill="#fff" stroke="#545454" stroke-width="1.7"/><rect x="361.3" y="306.6" width="5.2" height="83" rx="2.5" fill="#fff" stroke="#545454" stroke-width="1.7"/><line x1="352.3" y1="365.6" x2="366.5" y2="365.6" stroke="#545454" stroke-width="1.7"/><rect x="358.2" y="342.6" width="2.4" height="22" fill="#545454"/><rect x="357.9" y="331.6" width="3" height="7" fill="#fff" stroke="#545454" stroke-width="1"/><rect x="352.3" y="426.7" width="5.2" height="114.1" rx="2.5" fill="#fff" stroke="#545454" stroke-width="1.7"/><rect x="361.3" y="426.7" width="5.2" height="114.1" rx="2.5" fill="#fff" stroke="#545454" stroke-width="1.7"/><path d="M352.3,431.7 L352.3,426.7 L366.5,426.7 L366.5,431.7" fill="none" stroke="#545454" stroke-width="1.7"/><rect x="353.2" y="427.6" width="12.4" height="3" fill="#fff"/><line x1="357.5" y1="426.7" x2="357.5" y2="432.7" stroke="#545454" stroke-width="1.7"/><line x1="361.3" y1="426.7" x2="361.3" y2="432.7" stroke="#545454" stroke-width="1.7"/><line x1="352.3" y1="516.8" x2="366.5" y2="516.8" stroke="#545454" stroke-width="1.7"/><rect x="358.2" y="493.8" width="2.4" height="22" fill="#545454"/><rect x="357.9" y="482.8" width="3" height="7" fill="#fff" stroke="#545454" stroke-width="1"/><rect x="203.8" y="179.7" width="4.7" height="423.9" rx="1.6" fill="#fff" stroke="#545454" stroke-width="1.7"/><line x1="206.15" y1="197" x2="206.15" y2="203" stroke="#545454" stroke-width="1.4"/><line x1="206.15" y1="212" x2="206.15" y2="214" stroke="#545454" stroke-width="1.4"/><line x1="206.15" y1="218" x2="206.15" y2="220" stroke="#545454" stroke-width="1.4"/><line x1="206.15" y1="224" x2="206.15" y2="227" stroke="#545454" stroke-width="1.4"/><line x1="206.15" y1="290" x2="206.15" y2="296" stroke="#545454" stroke-width="1.4"/><line x1="206.15" y1="306" x2="206.15" y2="312" stroke="#545454" stroke-width="1.4"/><line x1="206.15" y1="380" x2="206.15" y2="395" stroke="#545454" stroke-width="1.4"/><line x1="206.15" y1="420" x2="206.15" y2="432" stroke="#545454" stroke-width="1.4"/><line x1="206.15" y1="531" x2="206.15" y2="546" stroke="#545454" stroke-width="1.4"/><rect x="204.4" y="228.8" width="3.5" height="9" fill="#505a60"/><rect x="204.4" y="323.5" width="3.5" height="9" fill="#505a60"/><rect x="204.4" y="474" width="3.5" height="9" fill="#505a60"/><circle cx="206.15" cy="388.6" r="2.6" fill="#505a60"/><circle cx="206.15" cy="539" r="2.6" fill="#505a60"/><line x1="200.2" y1="608.6" x2="212.1" y2="608.6" stroke="#545454" stroke-width="2"/><path d="M204.6,602.6 L207.7,602.6 L207.3,608.6 L205,608.6 Z" fill="#545454"/><rect x="510.3" y="179.7" width="4.7" height="423.9" rx="1.6" fill="#fff" stroke="#545454" stroke-width="1.7"/><line x1="512.65" y1="197" x2="512.65" y2="203" stroke="#545454" stroke-width="1.4"/><line x1="512.65" y1="212" x2="512.65" y2="214" stroke="#545454" stroke-width="1.4"/><line x1="512.65" y1="218" x2="512.65" y2="220" stroke="#545454" stroke-width="1.4"/><line x1="512.65" y1="224" x2="512.65" y2="227" stroke="#545454" stroke-width="1.4"/><line x1="512.65" y1="290" x2="512.65" y2="296" stroke="#545454" stroke-width="1.4"/><line x1="512.65" y1="306" x2="512.65" y2="312" stroke="#545454" stroke-width="1.4"/><line x1="512.65" y1="380" x2="512.65" y2="395" stroke="#545454" stroke-width="1.4"/><line x1="512.65" y1="420" x2="512.65" y2="432" stroke="#545454" stroke-width="1.4"/><line x1="512.65" y1="531" x2="512.65" y2="546" stroke="#545454" stroke-width="1.4"/><rect x="510.9" y="228.8" width="3.5" height="9" fill="#505a60"/><rect x="510.9" y="323.5" width="3.5" height="9" fill="#505a60"/><rect x="510.9" y="474" width="3.5" height="9" fill="#505a60"/><circle cx="512.65" cy="388.6" r="2.6" fill="#505a60"/><circle cx="512.65" cy="539" r="2.6" fill="#505a60"/><line x1="506.7" y1="608.6" x2="518.6" y2="608.6" stroke="#545454" stroke-width="2"/><path d="M511.1,602.6 L514.2,602.6 L513.8,608.6 L511.5,608.6 Z" fill="#545454"/></g>
<text transform="translate(362.35,143.7) scale(0.88,1)" font-size="38.5" fill="#676767" text-anchor="middle">285</text><text transform="translate(77.1,407.25) rotate(-90) scale(0.88,1)" font-size="38.5" fill="#676767" text-anchor="middle">282</text><text transform="translate(359.25,691) scale(0.88,1)" font-size="38.5" fill="#676767" text-anchor="middle">180</text><text transform="translate(355.25,777.1) scale(0.88,1)" font-size="38.5" fill="#676767" text-anchor="middle">254</text><text transform="translate(1022.8,173.7) scale(0.88,1)" font-size="37" fill="#676767" text-anchor="middle">285</text><text transform="translate(699.2,452.9) rotate(-90) scale(0.88,1)" font-size="37" fill="#676767" text-anchor="middle">248</text><text transform="translate(1017.9,715.9) scale(0.88,1)" font-size="37" fill="#676767" text-anchor="middle">180</text><text transform="translate(1015.5,796.5) scale(0.88,1)" font-size="37" fill="#676767" text-anchor="middle">254</text>
</svg>
</body></html>
